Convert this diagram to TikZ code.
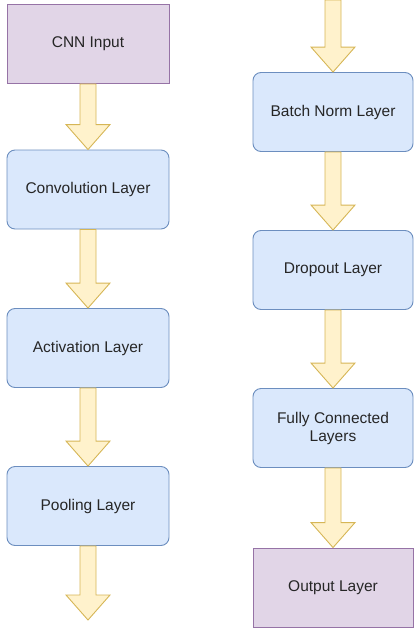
\documentclass[tikz,border=0pt]{standalone}
\usepackage{fontspec}
\setmainfont{Liberation Sans}
\usetikzlibrary{calc}

\definecolor{layerfill}{HTML}{DAE8FC}
\definecolor{layerdraw}{HTML}{6C8EBF}
\definecolor{endfill}{HTML}{E1D5E7}
\definecolor{enddraw}{HTML}{9673A6}
\definecolor{flowfill}{HTML}{FFF2CC}
\definecolor{flowdraw}{HTML}{D6B656}

\newcommand{\blockarrow}[2]{
\draw[flow] ($(#1)+(-8,0)$) -- ($(#2)+(-8,-25)$) -- ($(#2)+(-22,-25)$) -- (#2)
  -- ($(#2)+(22,-25)$) -- ($(#2)+(8,-25)$) -- ($(#1)+(8,0)$) -- cycle;
}

\begin{document}
\begin{tikzpicture}[x=1pt, y=-1pt,
  layer/.style={rectangle, rounded corners=8pt, draw=layerdraw, fill=layerfill, line width=0.9pt,
    minimum width=162pt, minimum height=79pt, align=center, text=black!85,
    font=\fontsize{15.5}{18}\selectfont},
  endlayer/.style={layer, rounded corners=0pt, draw=enddraw, fill=endfill},
  flow/.style={draw=flowdraw, fill=flowfill, line width=0.9pt, line join=miter}]

\useasboundingbox (0,0) rectangle (415,629);

\node[endlayer] (cnn) at (88, 44) {CNN Input};
\node[layer] (conv) at (88, 189.5) {Convolution Layer};
\node[layer] (act) at (88, 348) {Activation Layer};
\node[layer] (pool) at (88, 506) {Pooling Layer};
\coordinate (leftend) at (88, 620);

\coordinate (rightstart) at (333, 0);
\node[layer, minimum width=160pt] (bn) at (333, 112) {Batch Norm Layer};
\node[layer, minimum width=160pt] (drop) at (333, 270) {Dropout Layer};
\node[layer, minimum width=160pt] (fc) at (333, 428) {Fully Connected\\Layers};
\node[endlayer, minimum width=160pt] (out) at (333, 587.5) {Output Layer};

\blockarrow{cnn.south}{conv.north}
\blockarrow{conv.south}{act.north}
\blockarrow{act.south}{pool.north}
\blockarrow{pool.south}{leftend}

\blockarrow{rightstart}{bn.north}
\blockarrow{bn.south}{drop.north}
\blockarrow{drop.south}{fc.north}
\blockarrow{fc.south}{out.north}

\end{tikzpicture}
\end{document}
